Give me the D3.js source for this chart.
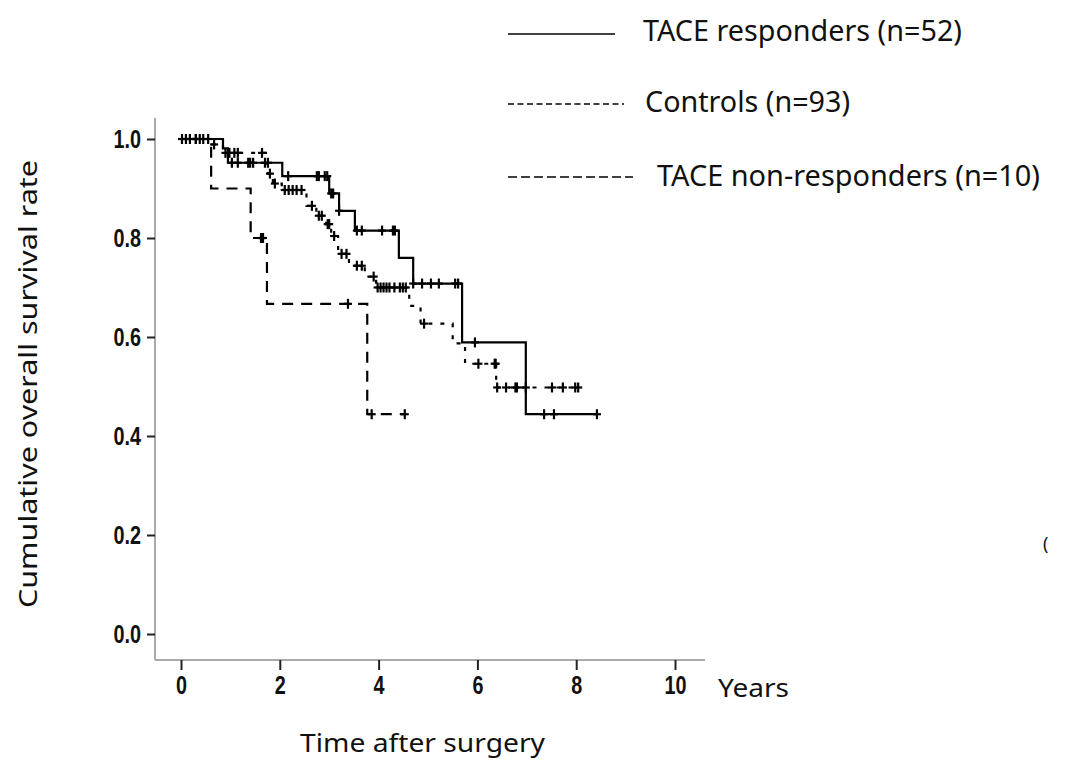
<!doctype html>
<html>
<head>
<meta charset="UTF-8">
<title>Overall survival after surgery</title>
<script src="https://cdn.jsdelivr.net/npm/d3@7"></script>
<style>
  body { margin: 0; background: #fff; }
  svg { display: block; }
  .lbl { font-family: "Noto Sans", "Open Sans", sans-serif; fill: #111; }
</style>
</head>
<body>
<script>
// ---- data ----
// each group: drop times, survival after each drop, end of follow-up, censor marks
var respTimes = [0, 0.85, 0.95, 2.05, 3.0, 3.2, 3.52, 4.41, 4.70, 5.69, 6.98];
var respSurv  = [1.0, 0.981, 0.952, 0.925, 0.89, 0.855, 0.815, 0.76, 0.708, 0.589, 0.444];
var respEnd = 8.42;
var respCensor = [0.3, 0.55, 1.03, 1.15, 1.36, 1.40, 1.46, 1.70, 1.76, 2.17, 2.75, 2.79, 2.91, 2.96,
                  3.04, 3.08, 3.2, 3.56, 3.66, 4.07, 4.29, 4.33, 4.7, 4.88, 5.06, 5.22, 5.55, 5.61,
                  5.95, 7.35, 7.55, 8.42];

var ctrlTimes = [0, 0.55, 0.85, 1.72, 1.76, 1.86, 2.04, 2.54, 2.74, 2.94, 3.04, 3.18, 3.4, 3.72,
                 3.95, 4.62, 4.85, 5.5, 5.75, 6.38];
var ctrlSurv  = [1.0, 0.989, 0.972, 0.95, 0.93, 0.91, 0.897, 0.865, 0.845, 0.828, 0.804, 0.768,
                 0.744, 0.722, 0.70, 0.663, 0.627, 0.587, 0.546, 0.498];
var ctrlEnd = 8.04;
var ctrlCensor = [0.02, 0.1, 0.18, 0.3, 0.38, 0.45, 0.67, 0.9, 0.98, 1.08, 1.15, 1.64, 1.8, 1.9,
                  2.1, 2.18, 2.26, 2.34, 2.44, 2.65, 2.79, 2.85, 2.97, 3.0, 3.1, 3.25, 3.35, 3.56,
                  3.66, 3.9, 3.98, 4.04, 4.1, 4.16, 4.22, 4.32, 4.43, 4.49, 4.55, 4.92, 6.02, 6.35,
                  6.37, 6.4, 6.58, 6.77, 6.8, 6.98, 7.51, 7.73, 7.98, 8.04];

var nonTimes = [0, 0.61, 1.41, 1.74, 3.77];
var nonSurv  = [1.0, 0.9, 0.8, 0.667, 0.444];
var nonEnd = 4.53;
var nonCensor = [1.62, 1.66, 3.38, 3.86, 4.53];

var xTicks = [0, 2, 4, 6, 8, 10];
var yTicks = [0, 0.2, 0.4, 0.6, 0.8, 1.0];
var legendLabels = ["TACE responders (n=52)", "Controls (n=93)", "TACE non-responders (n=10)"];

// ---- drawing ----
var width = 1087, height = 768;

var svg = d3.select("body").append("svg")
    .attr("width", width)
    .attr("height", height);

var x = d3.scaleLinear().domain([0, 10]).range([181, 675]);
var y = d3.scaleLinear().domain([0, 1]).range([634, 139]);

var axisX0 = 155, axisY0 = 660;

// axis lines (grey like the original)
svg.append("line")
    .attr("x1", axisX0).attr("x2", axisX0)
    .attr("y1", 118).attr("y2", axisY0)
    .attr("stroke", "#aaa").attr("stroke-width", 2);
svg.append("line")
    .attr("x1", axisX0).attr("x2", 705)
    .attr("y1", axisY0).attr("y2", axisY0)
    .attr("stroke", "#aaa").attr("stroke-width", 2);

// tick labels in the original are a tall, narrow bold face: squeeze a normal one
function styleAxis(g) {
  g.select(".domain").remove();
  g.selectAll(".tick line").attr("stroke", "#222").attr("stroke-width", 2);
  g.selectAll(".tick text")
      .style("font-family", "'Liberation Sans', Arial, sans-serif")
      .style("font-weight", "bold")
      .style("font-size", "25px")
      .style("fill", "#111")
      .attr("lengthAdjust", "spacingAndGlyphs")
      .attr("textLength", function() {
        var s = this.textContent, w = 0;
        for (var i = 0; i < s.length; i++) w += (s[i] === "." ? 5.5 : 11);
        return w;
      });
}

var gx = svg.append("g")
    .attr("transform", "translate(0," + axisY0 + ")")
    .call(d3.axisBottom(x).tickValues(xTicks).tickSize(10).tickPadding(6).tickFormat(d3.format("d")));
styleAxis(gx);

var gy = svg.append("g")
    .attr("transform", "translate(" + axisX0 + ",0)")
    .call(d3.axisLeft(y).tickValues(yTicks).tickSize(8).tickPadding(6).tickFormat(d3.format(".1f")));
styleAxis(gy);

// axis titles
svg.append("text").attr("class", "lbl")
    .attr("x", 718).attr("y", 697)
    .attr("font-size", 25)
    .attr("textLength", 71).attr("lengthAdjust", "spacingAndGlyphs")
    .text("Years");

svg.append("text").attr("class", "lbl")
    .attr("x", 300).attr("y", 752)
    .attr("font-size", 25)
    .attr("textLength", 245).attr("lengthAdjust", "spacingAndGlyphs")
    .text("Time after surgery");

svg.append("text").attr("class", "lbl")
    .attr("transform", "translate(37,608) rotate(-90)")
    .attr("font-size", 26)
    .attr("textLength", 448).attr("lengthAdjust", "spacingAndGlyphs")
    .text("Cumulative overall survival rate");

// stray mark at the right edge of the original
svg.append("text").attr("class", "lbl")
    .attr("x", 1043).attr("y", 550)
    .attr("font-size", 18).attr("fill", "#bbb")
    .text("(");

// survival curves
var stepLine = d3.line()
    .x(function(d) { return x(d[0]); })
    .y(function(d) { return y(d[1]); })
    .curve(d3.curveStepAfter);

function survAt(times, surv, t) {
  var s = surv[0];
  for (var i = 0; i < times.length; i++) { if (times[i] <= t) s = surv[i]; }
  return s;
}

function drawCurve(times, surv, end, censor, dash) {
  var pts = times.map(function(t, i) { return [t, surv[i]]; });
  pts.push([end, surv[surv.length - 1]]);

  svg.append("path")
      .datum(pts)
      .attr("d", stepLine)
      .attr("fill", "none")
      .attr("stroke", "#000")
      .attr("stroke-width", 2.2)
      .attr("stroke-dasharray", dash);

  var marks = svg.append("g").selectAll("g")
      .data(censor)
      .enter()
      .append("g")
      .attr("transform", function(t) {
        return "translate(" + x(t) + "," + y(survAt(times, surv, t)) + ")";
      });
  marks.append("line")
      .attr("x1", 0).attr("x2", 0).attr("y1", -5).attr("y2", 5)
      .attr("stroke", "#000").attr("stroke-width", 2.2);
  marks.append("line")
      .attr("x1", -4).attr("x2", 4).attr("y1", 0).attr("y2", 0)
      .attr("stroke", "#000").attr("stroke-width", 2.2);
}

drawCurve(nonTimes, nonSurv, nonEnd, nonCensor, "11,8");
drawCurve(ctrlTimes, ctrlSurv, ctrlEnd, ctrlCensor, "4,8");
drawCurve(respTimes, respSurv, respEnd, respCensor, null);

// legend
var legend = [
  { y: 34,  x2: 615, dash: null,  tx: 643, ty: 41,  tw: 319 },
  { y: 104, x2: 624, dash: "6,3.5", tx: 645, ty: 112, tw: 205 },
  { y: 177, x2: 633, dash: "9,4", tx: 657, ty: 186, tw: 383 }
];
legend.forEach(function(l, i) {
  svg.append("line")
      .attr("x1", 508).attr("x2", l.x2)
      .attr("y1", l.y).attr("y2", l.y)
      .attr("stroke", "#000").attr("stroke-width", 1.6)
      .attr("stroke-dasharray", l.dash);
  svg.append("text").attr("class", "lbl")
      .attr("x", l.tx).attr("y", l.ty)
      .attr("font-size", 29)
      .attr("textLength", l.tw).attr("lengthAdjust", "spacingAndGlyphs")
      .text(legendLabels[i]);
});
</script>
</body>
</html>
